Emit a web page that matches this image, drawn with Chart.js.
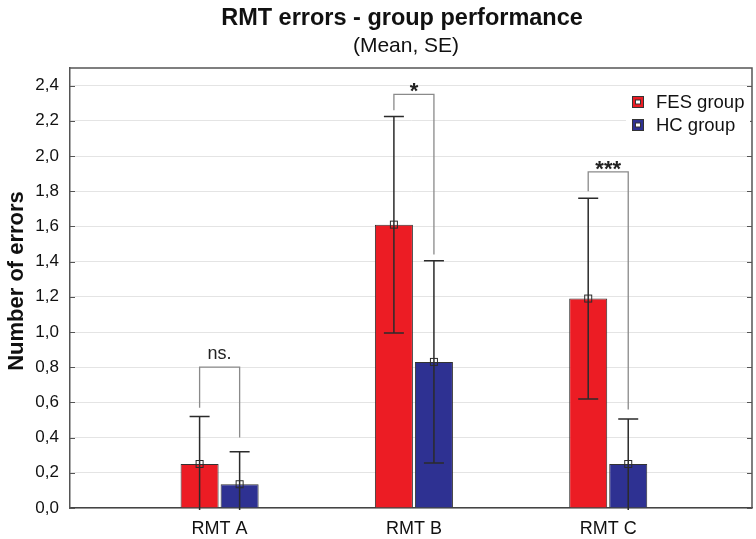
<!DOCTYPE html>
<html>
<head>
<meta charset="utf-8">
<script src="https://cdn.jsdelivr.net/npm/chart.js@4.4.1/dist/chart.umd.min.js"></script>
<style>
  html, body { margin: 0; padding: 0; background: #fff; }
  canvas { display: block; }
</style>
</head>
<body>
<canvas id="rmtChart" width="756" height="539"></canvas>
<script>
// data
const categories = ['RMT A', 'RMT B', 'RMT C'];
const fesMean = [0.25, 1.61, 1.19];
const fesSE = [0.27, 0.615, 0.57];
const hcMean = [0.135, 0.83, 0.25];
const hcSE = [0.185, 0.575, 0.255];
const yTicks = [0, 0.2, 0.4, 0.6, 0.8, 1.0, 1.2, 1.4, 1.6, 1.8, 2.0, 2.2, 2.4];

// significance brackets (value units)
const sigLabels = ['ns.', '*', '***'];
const sigTop = [0.80, 2.35, 1.91];
const sigLeftEnd = [0.57, 2.26, 1.80];
const sigRightEnd = [0.40, 1.44, 0.56];

const FONT = '"Liberation Sans", Arial, sans-serif';
const fmt = v => v.toFixed(1).replace('.', ',');

// error bars, mean markers, brackets, legend, titles
const extras = {
  id: 'extras',
  beforeDraw(chart) {
    const ctx = chart.ctx;
    ctx.save();
    ctx.fillStyle = '#fff';
    ctx.fillRect(0, 0, chart.width, chart.height);
    ctx.restore();
  },
  afterDatasetsDraw(chart) {
    const ctx = chart.ctx;
    const y = chart.scales.y;
    const area = chart.chartArea;
    const errs = [fesSE, hcSE];
    const means = [fesMean, hcMean];

    ctx.save();
    chart.data.datasets.forEach((ds, d) => {
      const meta = chart.getDatasetMeta(d);
      meta.data.forEach((bar, i) => {
        const lo = means[d][i] - errs[d][i];
        const top = y.getPixelForValue(means[d][i] + errs[d][i]);
        const bot = lo < 0 ? area.bottom + 2 : y.getPixelForValue(lo);
        ctx.strokeStyle = '#2b2b2b';
        ctx.lineWidth = 1.5;
        ctx.beginPath();
        ctx.moveTo(bar.x, top);
        ctx.lineTo(bar.x, bot);
        ctx.moveTo(bar.x - 10, top);
        ctx.lineTo(bar.x + 10, top);
        if (lo >= 0) {
          ctx.moveTo(bar.x - 10, bot);
          ctx.lineTo(bar.x + 10, bot);
        }
        ctx.stroke();
        // mean marker
        ctx.lineWidth = 1;
        ctx.strokeRect(bar.x - 3.5, bar.y - 3.5, 7, 7);
      });
    });

    // significance brackets
    const m0 = chart.getDatasetMeta(0), m1 = chart.getDatasetMeta(1);
    sigLabels.forEach((lab, i) => {
      const lx = m0.data[i].x, rx = m1.data[i].x;
      const ty = y.getPixelForValue(sigTop[i]);
      ctx.strokeStyle = '#8a8a8a';
      ctx.lineWidth = 1.3;
      ctx.beginPath();
      ctx.moveTo(lx, y.getPixelForValue(sigLeftEnd[i]));
      ctx.lineTo(lx, ty);
      ctx.lineTo(rx, ty);
      ctx.lineTo(rx, y.getPixelForValue(sigRightEnd[i]));
      ctx.stroke();
      ctx.fillStyle = '#222';
      ctx.textAlign = 'center';
      ctx.textBaseline = 'alphabetic';
      if (lab === 'ns.') {
        ctx.font = '18px ' + FONT;
        ctx.fillText(lab, (lx + rx) / 2, ty - 8);
      } else {
        ctx.font = 'bold 22px ' + FONT;
        ctx.fillText(lab, (lx + rx) / 2, ty + 4);
      }
    });

    // plot frame top / right, with inner ticks
    ctx.strokeStyle = '#555';
    ctx.lineWidth = 1.5;
    ctx.beginPath();
    ctx.moveTo(area.left, area.top);
    ctx.lineTo(area.right, area.top);
    ctx.lineTo(area.right, area.bottom);
    ctx.stroke();
    ctx.lineWidth = 1;
    ctx.beginPath();
    yTicks.forEach(v => {
      const py = Math.round(y.getPixelForValue(v)) + 0.5;
      ctx.moveTo(area.left, py);
      ctx.lineTo(area.left + 5, py);
      ctx.moveTo(area.right - 5, py);
      ctx.lineTo(area.right, py);
    });
    ctx.stroke();

    // legend
    const lx = 632, ly = 102;
    ctx.fillStyle = '#fff';
    ctx.fillRect(lx - 6, ly - 11, area.right - lx + 4, 48);
    chart.data.datasets.forEach((ds, d) => {
      const cy = ly + d * 23;
      ctx.fillStyle = ds.backgroundColor;
      ctx.fillRect(lx, cy - 6, 12, 12);
      ctx.strokeStyle = '#333';
      ctx.lineWidth = 1;
      ctx.strokeRect(lx + 0.5, cy - 5.5, 11, 11);
      ctx.fillStyle = '#fff';
      ctx.fillRect(lx + 3.5, cy - 2, 5, 4);
      ctx.strokeRect(lx + 3.5, cy - 2, 5, 4);
      ctx.fillStyle = '#111';
      ctx.font = '18.5px ' + FONT;
      ctx.textAlign = 'left';
      ctx.textBaseline = 'middle';
      ctx.fillText(ds.label, lx + 24, cy + 1);
    });

    // titles
    ctx.fillStyle = '#111';
    ctx.textAlign = 'center';
    ctx.textBaseline = 'middle';
    ctx.font = 'bold 23.5px ' + FONT;
    ctx.fillText('RMT errors - group performance', 402, 19);
    ctx.font = '21px ' + FONT;
    ctx.fillText('(Mean, SE)', 406, 46);
    ctx.save();
    ctx.translate(17, 281);
    ctx.rotate(-Math.PI / 2);
    ctx.font = 'bold 22px ' + FONT;
    ctx.fillText('Number of errors', 0, 0);
    ctx.restore();
    ctx.restore();
  }
};

const ctx = document.getElementById('rmtChart').getContext('2d');
new Chart(ctx, {
  type: 'bar',
  data: {
    datasets: [
      {
        label: 'FES group',
        data: fesMean.map((v, i) => ({ x: i, y: v })),
        backgroundColor: '#ec1c24',
        borderColor: '#333',
        borderWidth: 1,
      },
      {
        label: 'HC group',
        data: hcMean.map((v, i) => ({ x: i, y: v })),
        backgroundColor: '#2e3192',
        borderColor: '#333',
        borderWidth: 1,
      },
    ],
  },
  options: {
    responsive: false,
    animation: false,
    devicePixelRatio: 1,
    layout: { padding: { top: 68, right: 4, left: 0, bottom: 0 } },
    categoryPercentage: 0.412,
    barPercentage: 0.95,
    plugins: {
      legend: { display: false },
      tooltip: { enabled: false },
    },
    scales: {
      x: {
        type: 'linear',
        min: -0.77,
        max: 2.74,
        offset: false,
        grid: { display: false, drawTicks: false },
        border: { display: true, color: '#444', width: 1.5 },
        afterBuildTicks: axis => { axis.ticks = categories.map((c, i) => ({ value: i })); },
        afterFit: axis => { axis.height = 31; },
        ticks: {
          padding: 10,
          color: '#111',
          font: { size: 18, family: FONT },
          callback: v => categories[v] ?? '',
          maxRotation: 0,
          autoSkip: false,
        },
      },
      y: {
        min: 0,
        max: 2.5,
        afterBuildTicks: axis => { axis.ticks = yTicks.map(v => ({ value: v })); },
        afterFit: axis => { axis.width = 70; },
        grid: { color: '#e4e4e4', lineWidth: 1, drawTicks: false },
        border: { display: true, color: '#555', width: 1.5 },
        ticks: {
          padding: 11,
          color: '#111',
          font: { size: 17, family: FONT },
          callback: v => fmt(v),
        },
      },
    },
  },
  plugins: [extras],
});
</script>
</body>
</html>
